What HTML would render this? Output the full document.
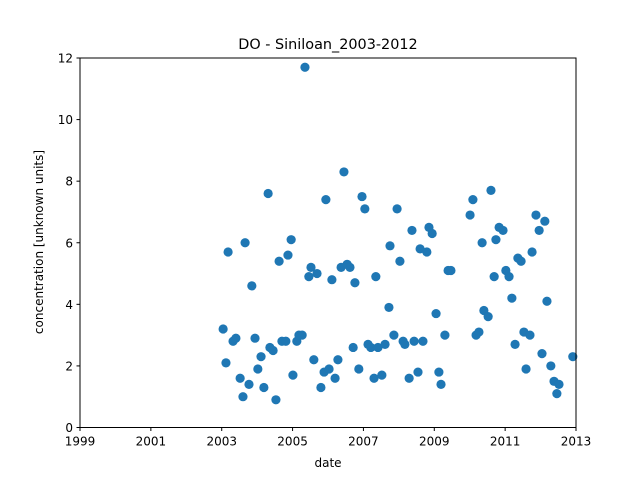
<!DOCTYPE html>
<html><head><meta charset="utf-8"><style>
body{margin:0;background:#fff}
svg text{font-family:"DejaVu Sans","Liberation Sans",sans-serif;fill:#000}
</style></head><body>
<svg id="chart" width="640" height="480" xmlns="http://www.w3.org/2000/svg">
<rect width="640" height="480" fill="#fff"/>
<text x="328" y="49" font-size="14.4" text-anchor="middle">DO - Siniloan_2003-2012</text>
<g id="ticks"></g>
<g id="points"></g>
<rect x="80" y="58" width="496" height="369.5" fill="none" stroke="#000" stroke-width="1"/>
<text x="328" y="467" font-size="12" text-anchor="middle">date</text>
<text transform="translate(43,242) rotate(-90)" font-size="12" text-anchor="middle">concentration [unknown units]</text>
</svg>
<script>
const xTicks=[1999,2001,2003,2005,2007,2009,2011,2013];
const yTicks=[0,2,4,6,8,10,12];
const dates=[2003.04,2003.12,2003.18,2003.32,2003.40,2003.52,2003.60,2003.66,2003.77,2003.85,2003.94,2004.02,2004.11,2004.19,2004.31,2004.36,2004.45,2004.53,2004.62,2004.70,2004.81,2004.87,2004.96,2005.01,2005.12,2005.18,2005.27,2005.35,2005.46,2005.52,2005.60,2005.69,2005.80,2005.89,2005.94,2006.03,2006.11,2006.20,2006.28,2006.37,2006.45,2006.54,2006.62,2006.71,2006.76,2006.87,2006.96,2007.04,2007.13,2007.21,2007.30,2007.35,2007.41,2007.52,2007.61,2007.72,2007.75,2007.86,2007.95,2008.03,2008.12,2008.17,2008.29,2008.37,2008.43,2008.54,2008.60,2008.68,2008.79,2008.85,2008.94,2009.05,2009.13,2009.19,2009.30,2009.39,2009.47,2010.01,2010.09,2010.18,2010.26,2010.35,2010.40,2010.52,2010.60,2010.69,2010.74,2010.83,2010.94,2011.02,2011.11,2011.19,2011.28,2011.36,2011.45,2011.53,2011.59,2011.70,2011.76,2011.87,2011.96,2012.04,2012.12,2012.18,2012.29,2012.38,2012.46,2012.52,2012.91];
const values=[3.2,2.1,5.7,2.8,2.9,1.6,1.0,6.0,1.4,4.6,2.9,1.9,2.3,1.3,7.6,2.6,2.5,0.9,5.4,2.8,2.8,5.6,6.1,1.7,2.8,3.0,3.0,11.7,4.9,5.2,2.2,5.0,1.3,1.8,7.4,1.9,4.8,1.6,2.2,5.2,8.3,5.3,5.2,2.6,4.7,1.9,7.5,7.1,2.7,2.6,1.6,4.9,2.6,1.7,2.7,3.9,5.9,3.0,7.1,5.4,2.8,2.7,1.6,6.4,2.8,1.8,5.8,2.8,5.7,6.5,6.3,3.7,1.8,1.4,3.0,5.1,5.1,6.9,7.4,3.0,3.1,6.0,3.8,3.6,7.7,4.9,6.1,6.5,6.4,5.1,4.9,4.2,2.7,5.5,5.4,3.1,1.9,3.0,5.7,6.9,6.4,2.4,6.7,4.1,2.0,1.5,1.1,1.4,2.3];
const L=80,R=576,T=58,B=427.5;
const xs=d=>L+(d-1999)/(2013-1999)*(R-L);
const ys=v=>B-v/12*(B-T);
const NS="http://www.w3.org/2000/svg";
const tg=document.getElementById('ticks');
xTicks.forEach(t=>{
  const l=document.createElementNS(NS,'line');
  l.setAttribute('x1',xs(t));l.setAttribute('x2',xs(t));l.setAttribute('y1',B);l.setAttribute('y2',B+3.5);l.setAttribute('stroke','#000');
  
  
  tg.appendChild(l);
  const tx=document.createElementNS(NS,'text');
  tx.setAttribute('x',xs(t));tx.setAttribute('y',B+18);tx.setAttribute('font-size','12');tx.setAttribute('text-anchor','middle');tx.textContent=t;
  
  
  tg.appendChild(tx);
});
yTicks.forEach(t=>{
  const l=document.createElementNS(NS,'line');
  l.setAttribute('x1',L-3.5);l.setAttribute('x2',L);l.setAttribute('y1',ys(t));l.setAttribute('y2',ys(t));l.setAttribute('stroke','#000');
  
  
  tg.appendChild(l);
  const tx=document.createElementNS(NS,'text');
  tx.setAttribute('x',L-7);tx.setAttribute('y',ys(t)+4.5);tx.setAttribute('font-size','12');tx.setAttribute('text-anchor','end');tx.textContent=t;
  
  
  tg.appendChild(tx);
});
const pg=document.getElementById('points');
dates.forEach((d,i)=>{
  const c=document.createElementNS(NS,'circle');
  c.setAttribute('cx',xs(d));c.setAttribute('cy',ys(values[i]));c.setAttribute('r','4.6');c.setAttribute('fill','#1f77b4');
  
  
  pg.appendChild(c);
});
</script>
</body></html>
